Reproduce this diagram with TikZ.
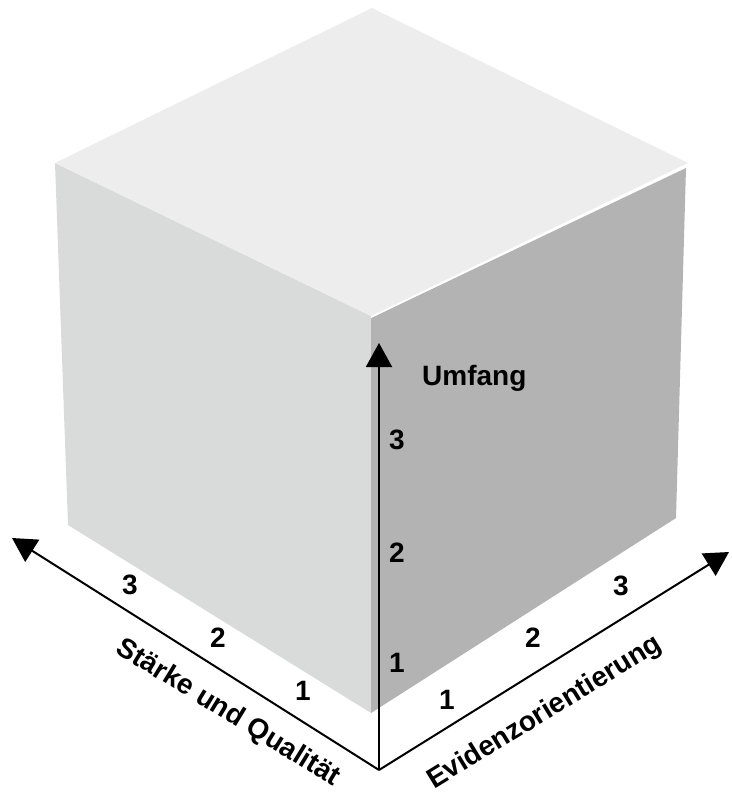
\documentclass[tikz,border=0pt]{standalone}
\usepackage{fontspec}
\setmainfont{Liberation Sans}
\usetikzlibrary{arrows.meta}
\definecolor{topface}{HTML}{EDEDED}
\definecolor{leftface}{HTML}{D9DADA}
\definecolor{rightface}{HTML}{B2B3B2}
\tikzset{
  axis/.style={line width=2pt, -{Triangle[length=24pt,width=26pt]}},
  tick/.style={font=\fontsize{28}{28}\selectfont\bfseries, inner sep=0pt},
  axlabel/.style={font=\fontsize{28}{28}\selectfont\bfseries, inner sep=0pt}
}
\begin{document}
\begin{tikzpicture}[x=1pt,y=-1pt]
\useasboundingbox (0,0) rectangle (731,794);
% cube faces
\fill[leftface] (55,163) -- (371,316) -- (371,713) -- (68,525) -- cycle;
\fill[rightface] (371,318) -- (686,168) -- (676,518) -- (371,713) -- cycle;
\fill[topface] (372,8) -- (688,163) -- (371,316) -- (55,163) -- cycle;
\draw[white, line width=0.8pt] (371,317.5) -- (687,165);
% axes
\coordinate (O) at (379,770);
\coordinate (U) at (379,343);
\coordinate (L) at (12,538);
\coordinate (R) at (729,552);
\draw[axis, line cap=butt] (O) -- (U);
\draw[axis] (O) -- (L);
\draw[axis] (O) -- (R);
% vertical ticks
\node[tick] (v3) at (397,440) {3};
\node[tick] (v2) at (397,553) {2};
\node[tick] (v1) at (397,663) {1};
\node[axlabel, anchor=west] (um) at (422,378) {Umfang};
% left ticks
\node[tick] (l3) at (130,585) {3};
\node[tick] (l2) at (218,638) {2};
\node[tick] (l1) at (303,691) {1};
% right ticks
\node[tick] (r1) at (447,700) {1};
\node[tick] (r2) at (533,638) {2};
\node[tick] (r3) at (621,586) {3};
% axis labels
\node[axlabel, rotate=-31.5] (sq) at (228,713) {Stärke und Qualität};
\node[axlabel, rotate=31.5] (ev) at (545,713) {Evidenzorientierung};
\end{tikzpicture}
\end{document}
